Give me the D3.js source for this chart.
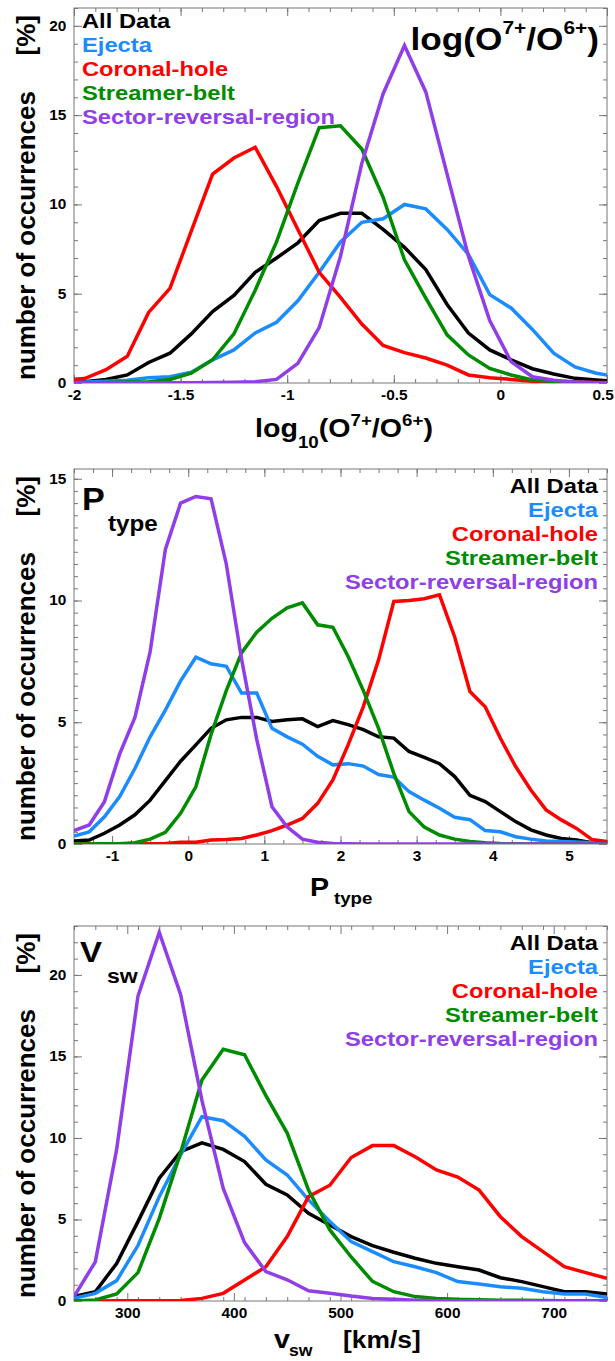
<!DOCTYPE html>
<html>
<head>
<meta charset="utf-8">
<script src="https://cdn.jsdelivr.net/npm/d3@7"></script>
<style>
  body { margin: 0; background: #fff; }
  svg { display: block; }
  text { font-family: "Liberation Sans", Arial, Helvetica, sans-serif; font-weight: bold; }
</style>
</head>
<body>
<div id="chart"></div>
<script>
// --- Data: histogram bin centres and percentages ---

// Panel 1: log10(O7+/O6+)  (outer bins fall just outside the axis and get clipped)
const o7Bins = [-2.05, -1.95, -1.85, -1.75, -1.65, -1.55, -1.45, -1.35, -1.25, -1.15, -1.05,
  -0.95, -0.85, -0.75, -0.65, -0.55, -0.45, -0.35, -0.25, -0.15, -0.05,
  0.05, 0.15, 0.25, 0.35, 0.45, 0.55];
const o7All = [0.05, 0.07, 0.2, 0.45, 1.15, 1.67, 2.75, 4.0, 4.9, 6.2, 7.0,
  7.85, 9.1, 9.5, 9.5, 8.6, 7.6, 6.35, 4.4, 2.8, 1.85,
  1.3, 0.8, 0.5, 0.26, 0.17, 0.08];
const o7Ejecta = [0.04, 0.05, 0.1, 0.15, 0.3, 0.35, 0.6, 1.3, 1.85, 2.8, 3.4,
  4.6, 6.2, 7.9, 9.0, 9.2, 10.0, 9.75, 8.6, 7.2, 4.95,
  4.2, 3.0, 1.67, 0.9, 0.55, 0.35];
const o7Coronal = [0.18, 0.25, 0.75, 1.5, 3.95, 5.3, 8.5, 11.7, 12.6, 13.2, 11.0,
  8.6, 6.2, 4.8, 3.3, 2.1, 1.7, 1.4, 1.0, 0.45, 0.3,
  0.2, 0.1, 0.07, 0.05, 0.03, 0.02];
const o7Streamer = [0.02, 0.02, 0.03, 0.05, 0.07, 0.2, 0.55, 1.3, 2.75, 5.2, 7.9,
  11.2, 14.3, 14.4, 13.1, 10.4, 6.9, 4.75, 2.7, 1.57, 0.82,
  0.45, 0.17, 0.08, 0.04, 0.02, 0.01];
const o7Sector = [0.02, 0.02, 0.02, 0.02, 0.02, 0.02, 0.02, 0.03, 0.04, 0.07, 0.2,
  1.1, 3.1, 7.1, 12.3, 16.2, 18.9, 16.3, 11.7, 7.1, 3.5,
  1.2, 0.35, 0.15, 0.05, 0.02, 0.01];

// Panel 2: P_type
const ptBins = [-1.5, -1.3, -1.1, -0.9, -0.7, -0.5, -0.3, -0.1, 0.1, 0.3,
  0.5, 0.7, 0.9, 1.1, 1.3, 1.5, 1.7, 1.9, 2.1, 2.3,
  2.5, 2.7, 2.9, 3.1, 3.3, 3.5, 3.7, 3.9, 4.1, 4.3,
  4.5, 4.7, 4.9, 5.1, 5.3, 5.5];
const ptAll = [0.12, 0.16, 0.44, 0.78, 1.2, 1.8, 2.6, 3.4, 4.07, 4.75,
  5.1, 5.2, 5.2, 5.03, 5.1, 5.14, 4.82, 5.07, 4.9, 4.7,
  4.4, 4.35, 3.8, 3.56, 3.3, 2.77, 2.0, 1.74, 1.33, 0.92,
  0.58, 0.37, 0.23, 0.16, 0.05, 0.02];
const ptEjecta = [0.33, 0.5, 1.12, 1.95, 3.1, 4.4, 5.5, 6.7, 7.67, 7.4,
  7.3, 6.2, 6.2, 4.75, 4.4, 4.1, 3.6, 3.25, 3.3, 3.2,
  2.85, 2.75, 2.15, 1.8, 1.47, 1.1, 1.0, 0.55, 0.5, 0.3,
  0.2, 0.12, 0.1, 0.08, 0.05, 0.03];
const ptCoronal = [0, 0, 0, 0, 0, 0.01, 0.02, 0.07, 0.07, 0.16,
  0.18, 0.23, 0.37, 0.55, 0.78, 1.05, 1.67, 2.63, 4.07, 5.64,
  7.56, 9.96, 10.0, 10.07, 10.23, 8.5, 6.26, 5.64, 4.34, 3.18,
  2.22, 1.4, 0.99, 0.64, 0.19, 0.1];
const ptStreamer = [0, 0, 0.01, 0.01, 0.05, 0.2, 0.48, 1.26, 2.35, 4.5,
  6.3, 7.85, 8.7, 9.27, 9.7, 9.9, 9.0, 8.9, 7.7, 6.3,
  4.75, 2.9, 1.33, 0.7, 0.37, 0.2, 0.1, 0.05, 0.02, 0.01,
  0, 0, 0, 0, 0, 0];
const ptSector = [0.55, 0.78, 1.74, 3.7, 5.2, 7.9, 12.1, 14.0, 14.27, 14.18,
  11.5, 7.6, 4.3, 1.53, 0.7, 0.2, 0.07, 0.02, 0.01, 0,
  0, 0, 0, 0, 0, 0, 0, 0, 0, 0,
  0, 0, 0, 0, 0, 0];

// Panel 3: v_sw [km/s]
const vBins = [250, 270, 290, 310, 330, 350, 370, 390, 410, 430,
  450, 470, 490, 510, 530, 550, 570, 590, 610, 630,
  650, 670, 690, 710, 730, 750];
const vAll = [0.27, 0.57, 2.3, 4.87, 7.53, 9.16, 9.7, 9.3, 8.55, 7.16,
  6.5, 5.38, 4.66, 3.95, 3.4, 2.99, 2.62, 2.31, 2.1, 1.9,
  1.43, 1.19, 0.88, 0.57, 0.57, 0.43];
const vEjecta = [0.16, 0.47, 1.25, 3.4, 6.4, 8.96, 11.3, 11.06, 10.1, 8.65,
  7.73, 6.2, 4.87, 3.64, 3.03, 2.41, 2.1, 1.74, 1.19, 1.04,
  0.88, 0.78, 0.57, 0.43, 0.43, 0.22];
const vCoronal = [0, 0, 0.01, 0.01, 0.01, 0.03, 0.16, 0.47, 1.29, 2.1,
  3.95, 6.4, 7.1, 8.8, 9.53, 9.53, 8.85, 8.04, 7.6, 6.8,
  5.17, 3.95, 3.03, 2.1, 1.74, 1.39];
const vStreamer = [0, 0.06, 0.43, 1.74, 5.07, 9.1, 13.56, 15.44, 15.1, 12.6,
  10.3, 6.8, 4.36, 2.7, 1.2, 0.57, 0.27, 0.16, 0.1, 0.07,
  0.05, 0.04, 0.03, 0.02, 0.02, 0.02];
const vSector = [0.27, 2.4, 9.3, 18.7, 22.6, 18.8, 12.3, 6.9, 3.58, 1.8,
  1.3, 0.63, 0.47, 0.3, 0.16, 0.1, 0.05, 0.02, 0.02, 0.01,
  0, 0, 0, 0, 0, 0];

const legendLabels = ['All Data', 'Ejecta', 'Coronal-hole', 'Streamer-belt', 'Sector-reversal-region'];
const colors = ['#000000', '#1a8cff', '#ff0000', '#008c00', '#8f3ee8'];

// --- Layout ---
const width = 615, height = 1361;
const plotLeft = 74, plotRight = 607;
const SX = 1.1; // the lettering in the original is a bit wide

const panels = [
  {
    top: 8, bottom: 383, xDomain: [-2, 0.5], yDomain: [0, 21],
    xMajor: [-2, -1.5, -1, -0.5, 0, 0.5], xMinorStep: 0.1,
    yMajor: [0, 5, 10, 15, 20], yMinorStep: 1,
    bins: o7Bins, series: [o7All, o7Ejecta, o7Coronal, o7Streamer, o7Sector],
    legendAlign: 'start'
  },
  {
    top: 469, bottom: 844, xDomain: [-1.5, 5.5], yDomain: [0, 15.4],
    xMajor: [-1, 0, 1, 2, 3, 4, 5], xMinorStep: 0.25,
    yMajor: [0, 5, 10, 15], yMinorStep: 0.5,
    bins: ptBins, series: [ptAll, ptEjecta, ptCoronal, ptStreamer, ptSector],
    legendAlign: 'end'
  },
  {
    top: 926, bottom: 1301, xDomain: [250, 750], yDomain: [0, 23],
    xMajor: [300, 400, 500, 600, 700], xMinorStep: 20,
    yMajor: [0, 5, 10, 15, 20], yMinorStep: 1,
    bins: vBins, series: [vAll, vEjecta, vCoronal, vStreamer, vSector],
    legendAlign: 'end'
  }
];

const svg = d3.select('#chart').append('svg')
  .attr('width', width)
  .attr('height', height);

function stepTicks(lo, hi, step) {
  const n = Math.floor((hi - lo) / step + 1e-6);
  return d3.range(n + 1).map(i => lo + i * step);
}

// horizontal text, slightly widened
function label(x, y, size, anchor) {
  return svg.append('text')
    .attr('transform', `translate(${x},${y}) scale(${SX},1)`)
    .attr('text-anchor', anchor || 'start')
    .style('font-size', size + 'px');
}

panels.forEach((p, pi) => {
  const x = d3.scaleLinear().domain(p.xDomain).range([plotLeft, plotRight]);
  const y = d3.scaleLinear().domain(p.yDomain).range([p.bottom, p.top]);
  const g = svg.append('g').attr('class', 'panel-' + pi);

  const clipId = 'clip' + pi;
  g.append('clipPath').attr('id', clipId)
    .append('rect')
    .attr('x', plotLeft).attr('y', p.top)
    .attr('width', plotRight - plotLeft).attr('height', p.bottom - p.top);

  // frame
  g.append('rect')
    .attr('x', plotLeft).attr('y', p.top)
    .attr('width', plotRight - plotLeft).attr('height', p.bottom - p.top)
    .attr('fill', 'none').attr('stroke', '#777').attr('stroke-width', 1);

  const xMinor = stepTicks(p.xDomain[0], p.xDomain[1], p.xMinorStep);
  const yMinor = stepTicks(p.yDomain[0], p.yDomain[1], p.yMinorStep);
  const fmt = d => String(d);

  // minor ticks, all four sides
  const minor = [
    [d3.axisBottom(x).tickValues(xMinor), `translate(0,${p.bottom})`],
    [d3.axisTop(x).tickValues(xMinor), `translate(0,${p.top})`],
    [d3.axisLeft(y).tickValues(yMinor), `translate(${plotLeft},0)`],
    [d3.axisRight(y).tickValues(yMinor), `translate(${plotRight},0)`]
  ];
  minor.forEach(([ax, tr]) => {
    const a = g.append('g').attr('transform', tr)
      .call(ax.tickSize(-4).tickSizeOuter(0).tickFormat(''));
    a.select('.domain').remove();
    a.selectAll('line').attr('stroke', '#777');
  });

  // major ticks
  const major = [
    [d3.axisBottom(x).tickValues(p.xMajor).tickFormat(fmt), `translate(0,${p.bottom})`, true],
    [d3.axisTop(x).tickValues(p.xMajor).tickFormat(''), `translate(0,${p.top})`, false],
    [d3.axisLeft(y).tickValues(p.yMajor).tickFormat(fmt), `translate(${plotLeft},0)`, true],
    [d3.axisRight(y).tickValues(p.yMajor).tickFormat(''), `translate(${plotRight},0)`, false]
  ];
  major.forEach(([ax, tr, lab]) => {
    const a = g.append('g').attr('transform', tr)
      .call(ax.tickSize(-8).tickSizeOuter(0).tickPadding(7));
    a.select('.domain').remove();
    a.selectAll('line').attr('stroke', '#777');
    if (lab) {
      a.selectAll('text')
        .attr('fill', '#000')
        .attr('transform', `scale(${SX},1)`)
        .style('font-size', '14px')
        .style('font-family', '"Liberation Sans", Arial, sans-serif')
        .style('font-weight', 'bold');
    }
  });
  // last x label sits at the right edge of the page: keep it inside
  g.selectAll('text')
    .filter(function () { return this.textContent === '0.5'; })
    .attr('dx', -4);

  // curves
  const line = d3.line()
    .x((d, i) => x(p.bins[i]))
    .y(d => y(d));
  g.append('g').attr('clip-path', `url(#${clipId})`)
    .selectAll('path')
    .data(p.series)
    .join('path')
    .attr('d', line)
    .attr('fill', 'none')
    .attr('stroke', (d, i) => colors[i])
    .attr('stroke-width', 3.5);

  // legend
  const lx = p.legendAlign === 'start' ? 82 : 598;
  const ly0 = pi === 0 ? p.top + 20 : p.top + 24;
  g.append('g')
    .attr('transform', `translate(${lx},${ly0}) scale(1.13,1)`)
    .selectAll('text')
    .data(legendLabels)
    .join('text')
    .attr('x', 0)
    .attr('y', (d, i) => i * 24)
    .attr('text-anchor', p.legendAlign)
    .attr('fill', (d, i) => colors[i])
    .style('font-size', '21px')
    .text(d => d);

  // y-axis title
  const ytx = 35;
  g.append('text')
    .attr('transform', `translate(${ytx},${p.bottom - 3}) rotate(-90)`)
    .attr('text-anchor', 'start')
    .style('font-size', '26px')
    .text('number of occurrences');
  g.append('text')
    .attr('transform', `translate(${ytx},${p.top + 7}) rotate(-90)`)
    .attr('text-anchor', 'end')
    .style('font-size', '26px')
    .text('[%]');
});

// --- Panel labels and x-axis titles ---
// panel 1 label: log(O7+/O6+)
const t1 = label(599, 50, 32, 'end');
t1.append('tspan').text('log(O');
t1.append('tspan').attr('dy', -16).style('font-size', '19px').text('7+');
t1.append('tspan').attr('dy', 16).text('/O');
t1.append('tspan').attr('dy', -16).style('font-size', '19px').text('6+');
t1.append('tspan').attr('dy', 16).text(')');

// panel 1 x title: log10(O7+/O6+)
const x1 = label(344, 437, 26, 'middle');
x1.append('tspan').text('log');
x1.append('tspan').attr('dy', 11).style('font-size', '17px').text('10');
x1.append('tspan').attr('dy', -11).text('(O');
x1.append('tspan').attr('dy', -11).style('font-size', '17px').text('7+');
x1.append('tspan').attr('dy', 11).text('/O');
x1.append('tspan').attr('dy', -11).style('font-size', '17px').text('6+');
x1.append('tspan').attr('dy', 11).text(')');

// panel 2 label: P type
label(82, 510, 31).text('P');
label(108, 531, 22).text('type');

// panel 2 x title
label(310, 896, 26).text('P');
label(334, 904, 17).text('type');

// panel 3 label: V sw
label(80, 962, 30).text('V');
label(107, 983, 21).text('sw');

// panel 3 x title
label(274, 1348, 26).text('v');
label(289, 1356, 16).text('sw');
label(343, 1348, 24).text('[km/s]');
</script>
</body>
</html>
